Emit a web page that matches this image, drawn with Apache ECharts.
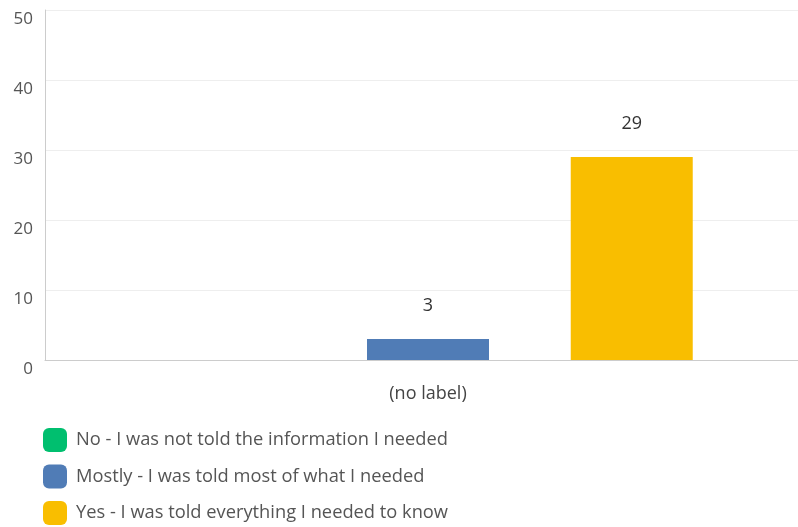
<!DOCTYPE html>
<html>
<head>
<meta charset="utf-8">
<script src="https://cdn.jsdelivr.net/npm/echarts@6/dist/echarts.min.js"></script>
<style>html,body{margin:0;padding:0;background:#fff;overflow:hidden;}#c{width:811px;height:527px;}</style>
</head>
<body>
<div id="c"></div>
<script>
var categories = ['(no label)'];
var seriesNames = ['No - I was not told the information I needed', 'Mostly - I was told most of what I needed', 'Yes - I was told everything I needed to know'];
var seriesValues = [[0], [3], [29]];
var seriesColors = ['#00bf6f', '#507cb6', '#f9be00'];
var yTicks = [0, 10, 20, 30, 40, 50];

var chart = echarts.init(document.getElementById('c'));
var font = '"Open Sans", "Noto Sans", sans-serif';
var series = seriesNames.map(function (n, i) {
  return {
    name: n, type: 'bar', data: seriesValues[i], barWidth: 122, barGap: '67%',
    itemStyle: { color: seriesColors[i] },
    label: { show: seriesValues[i][0] > 0, position: 'top', distance: 24, color: '#333', fontSize: 18, fontFamily: font },
    emphasis: { disabled: true }
  };
});
chart.setOption({
  animation: false,
  grid: { left: 45, top: 10, right: 0, height: 350, containLabel: false },
  legend: {
    orient: 'vertical', left: 43, top: 428, itemWidth: 24, itemHeight: 24, itemGap: 12.5,
    padding: 0, height: 100,
    icon: 'roundRect',
    textStyle: { color: '#555', fontSize: 18.3, fontFamily: font, padding: [0, 0, 0, 4] },
    data: seriesNames
  },
  xAxis: {
    type: 'category', data: categories,
    axisLine: { lineStyle: { color: '#ccc', width: 1 } },
    axisTick: { show: false },
    axisLabel: { color: '#444', fontSize: 18, fontFamily: font, margin: 25 }
  },
  yAxis: {
    type: 'value', min: yTicks[0], max: yTicks[yTicks.length - 1], interval: 10,
    axisLine: { show: true, lineStyle: { color: '#ccc' } },
    axisTick: { show: false },
    splitLine: { lineStyle: { color: '#eee' } },
    axisLabel: { color: '#555', fontSize: 17, fontFamily: font, margin: 12, verticalAlign: 'top', padding: [1, 0, 0, 0] }
  },
  series: series
});
</script>
</body>
</html>
